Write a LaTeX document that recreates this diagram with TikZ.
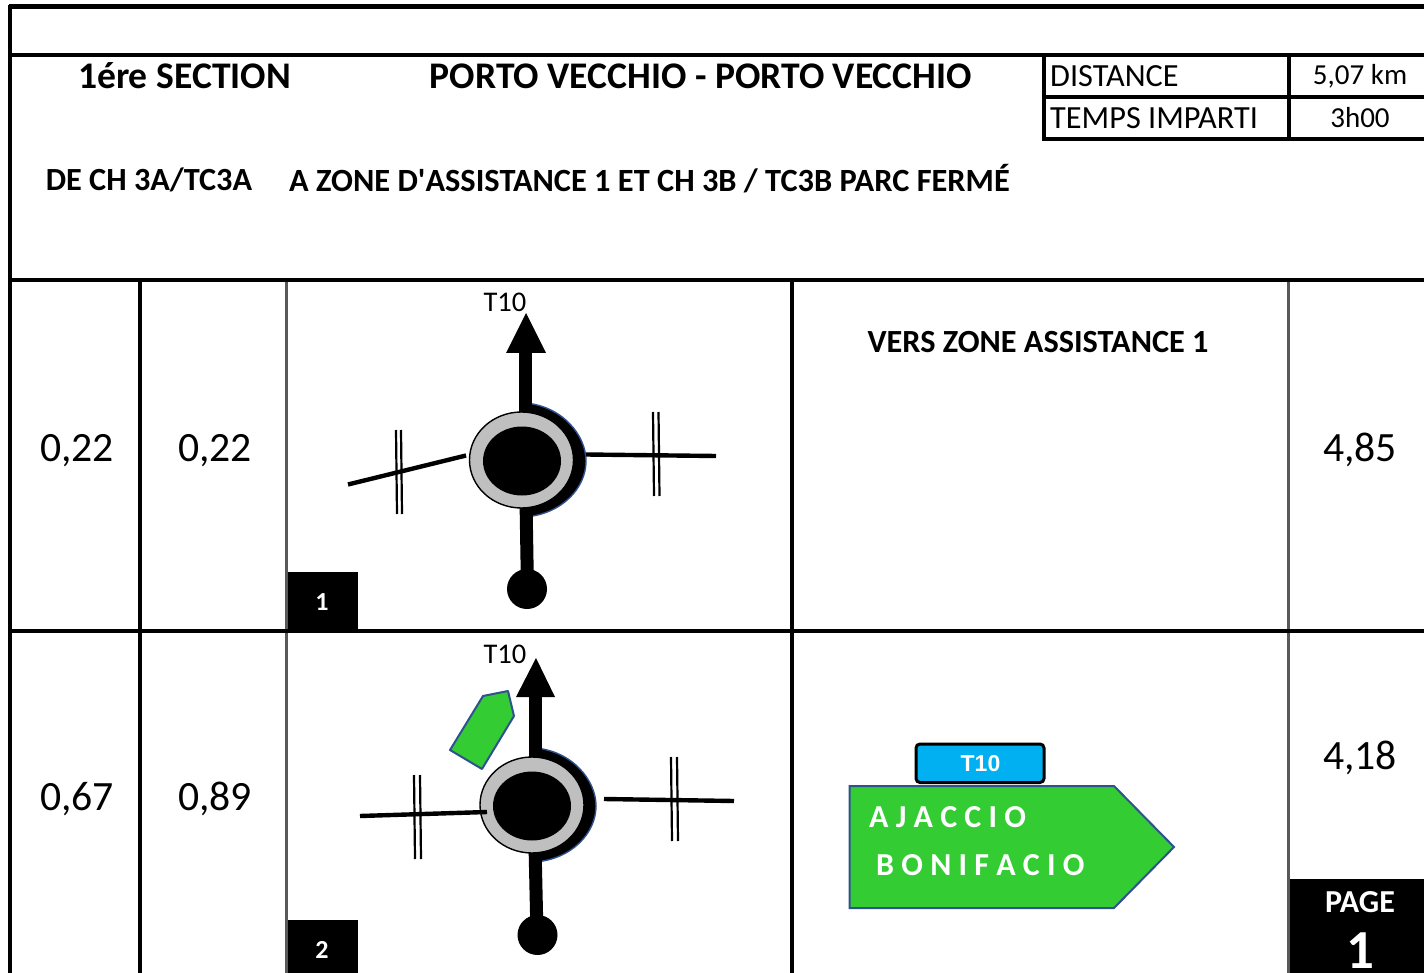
\documentclass[tikz,border=0pt]{standalone}
\usepackage{fontspec}
\setmainfont{Carlito}
\newfontfamily\plainf{Carlito}
\newfontfamily\arialf{Liberation Sans}
\definecolor{signgreen}{HTML}{33CC33}
\definecolor{signblue}{HTML}{2F528F}
\definecolor{ringgrey}{HTML}{BFBFBF}
\definecolor{cyanT}{HTML}{00B0F0}
\definecolor{thinline}{HTML}{595959}
\tikzset{
 x=1pt,y=-1pt,
 gridline/.style={line width=3.4pt,black},
 greyline/.style={line width=3.2pt,thinline},
 gridt/.style={line width=3.2pt,black},
 num/.style={inner sep=0,anchor=center,font=\fontsize{41.7}{46}\selectfont},
 title/.style={inner sep=0,anchor=center,font=\fontsize{37.6}{42}\selectfont\bfseries},
 head/.style={inner sep=0,anchor=center,font=\fontsize{32.3}{36}\selectfont\bfseries},
 cell/.style={inner sep=0,font=\fontsize{32.3}{36}\selectfont},
 cellv/.style={inner sep=0,anchor=center,font=\fontsize{29}{34}\selectfont},
 small/.style={inner sep=0,anchor=center,font=\fontsize{28.5}{32}\selectfont},
 tag/.style={inner sep=0,anchor=center,text=white,font=\fontsize{26}{30}\selectfont\bfseries},
 road/.style={line width=13pt,black},
 branch/.style={line width=4.4pt,black},
 rail/.style={line width=2.2pt,black},
 signtxt/.style={inner sep=0,anchor=west,text=white,font=\fontsize{32}{36}\selectfont\bfseries},
}
\begin{document}
\begin{tikzpicture}
\useasboundingbox (0,0) rectangle (1424,973);
\clip (0,0) rectangle (1424,973);
% frame
\draw[greyline] (286.5,280) -- (286.5,973);
\draw[greyline] (1288.5,280) -- (1288.5,973);
\draw[line width=4.2pt] (9,6.5) -- (1424,6.5);
\draw[line width=4pt] (9,55.5) -- (1424,55.5);
\draw[gridline] (9,280) -- (1424,280);
\draw[gridline] (9,631) -- (1424,631);
\draw[gridline] (10,5) -- (10,973);
\foreach \x in {140,792} \draw[gridline] (\x,280) -- (\x,973);
% top table
\draw[gridt] (1044,55) -- (1044,139) -- (1424,139);
\draw[gridt] (1044,97) -- (1424,97);
\draw[gridt] (1289,55) -- (1289,139);
\node[title] (sec) at (184.5,76) {1ére SECTION};
\node[title] (ttl) at (701,76) {PORTO VECCHIO - PORTO VECCHIO};
\node[head] (sub1) at (149,180) {DE CH 3A/TC3A};
\node[head,font=\fontsize{32.4}{36}\selectfont\bfseries] (sub2) at (649.5,178.5) {A ZONE D{\plainf\bfseries\symbol{39}}ASSISTANCE 1 ET CH 3B / TC3B PARC FERMÉ};
\node[cell,anchor=west] (dl) at (1050,76) {DISTANCE};
\node[cellv] (dv) at (1360,76) {5,07 km};
\node[cell,anchor=west] (tl) at (1050,118) {TEMPS IMPARTI};
\node[cellv] (tv) at (1360,118) {3h00};
% row 1
\node[num] (a1) at (77,451) {0,22};
\node[num] (b1) at (215,451) {0,22};
\node[num] (c1) at (1360,449.5) {4,85};
\node[head] (note) at (1038,342) {VERS ZONE ASSISTANCE 1};
\node[fill=black,minimum width=70pt,minimum height=59pt,inner sep=0,anchor=north west] (box1) at (288,572) {};
\node[tag] at (322,602) {1};
\node[small] (t1) at (505,302) {T10};
% row 1 sketch
\draw[signblue,fill=black,line width=1.4pt] (525,403) .. controls (562,406) and (586,435) .. (586,461) .. controls (586,488) and (562,514) .. (525,517) -- cycle;
\draw[road] (525.5,345) -- (525.5,420);
\fill (506,353) -- (526,313) -- (546,353) -- cycle;
\draw[road] (526,500) -- (527.5,590);
\fill (527,589) circle (20);
\draw[black,fill=ringgrey,line width=1.4pt] (521.5,460) ellipse (52 and 48);
\fill (522,461) ellipse (39 and 34.5);
\draw[branch] (348,484.5) -- (466,455.5);
\draw[branch] (586,454.5) -- (716,456);
\draw[rail] (396,430) -- (397,514);
\draw[rail] (401,430) -- (402,514);
\draw[rail] (653,412) -- (654,496);
\draw[rail] (658.5,412) -- (659.5,496);
% row 2
\node[num] (a2) at (77,799) {0,67};
\node[num] (b2) at (215,799) {0,89};
\node[num] (c2) at (1360,757.5) {4,18};
\node[fill=black,minimum width=70pt,minimum height=55pt,inner sep=0,anchor=north west] (box2) at (288,920) {};
\node[tag] at (322,950) {2};
\node[small] (t2) at (505,654) {T10};
% row 2 sketch
\draw[signblue,fill=black,line width=1.4pt] (535,748) .. controls (572,751) and (596,780) .. (596,806) .. controls (596,833) and (572,859) .. (535,862) -- cycle;
\draw[road] (535.5,695) -- (535.5,765);
\fill (516,697) -- (536,658) -- (555,697) -- cycle;
\draw[road] (535,845) -- (537,935);
\fill (537.5,935) circle (20);
\draw[black,fill=ringgrey,line width=1.4pt] (532,805) ellipse (52 and 48);
\fill (532,806) ellipse (39 and 34.5);
\draw[branch] (360,816) -- (487,812);
\draw[branch] (604,799) -- (734,801);
\draw[rail] (414,775) -- (415,859);
\draw[rail] (420,775) -- (421,859);
\draw[rail] (671,757) -- (672,841);
\draw[rail] (677,757) -- (678,841);
\draw[signblue,fill=signgreen,line width=2pt,line join=round] (450,750) -- (483,696) -- (508,691) -- (514,716) -- (482,769) -- cycle;
% sign
\draw[signblue,fill=signgreen,line width=2pt] (849.5,786) -- (1114,786) -- (1174,847) -- (1114,908) -- (849.5,908) -- cycle;
\draw[black,fill=cyanT,line width=3pt,rounded corners=4pt] (916,744) rectangle (1044,782.5);
\node[inner sep=0,anchor=center,text=white,font=\arialf\fontsize{23}{26}\selectfont\bfseries] (t3) at (980.5,764) {T10};
\node[signtxt] (aj) at (869,817) {A J A C C I O};
\node[signtxt] (bo) at (876,865) {B O N I F A C I O};
% page
\node[fill=black,anchor=north west,minimum width=135pt,minimum height=95pt,inner sep=0] (pg) at (1290,879) {};
\node[inner sep=0,anchor=center,text=white,font=\fontsize{32}{36}\selectfont\bfseries] (p1) at (1360,902) {PAGE};
\node[inner sep=0,anchor=center,text=white,font=\fontsize{55}{60}\selectfont\bfseries] (p2) at (1360,951) {1};
\end{tikzpicture}
\end{document}
